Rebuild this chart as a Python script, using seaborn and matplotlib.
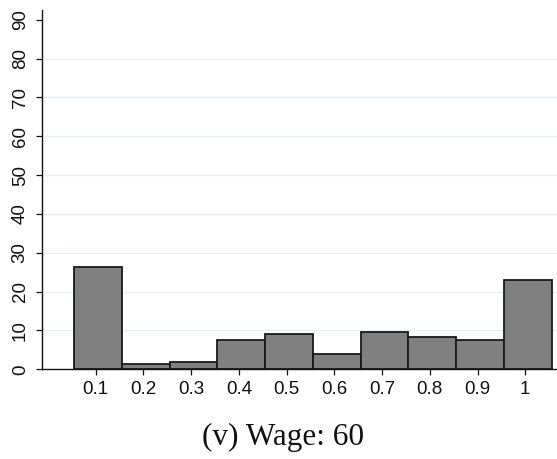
import numpy as np
import pandas as pd
import matplotlib
matplotlib.use("Agg")
import matplotlib.pyplot as plt
import seaborn as sns

# Share of choices (percent) at each value
values = [0.1, 0.2, 0.3, 0.4, 0.5, 0.6, 0.7, 0.8, 0.9, 1.0]
percent = [26.4, 1.3, 2.0, 7.5, 9.0, 4.0, 9.7, 8.3, 7.5, 23.0]
x_tick_labels = ["0.1", "0.2", "0.3", "0.4", "0.5", "0.6", "0.7", "0.8", "0.9", "1"]
y_ticks = [0, 10, 20, 30, 40, 50, 60, 70, 80, 90]
caption = "(v) Wage: 60"

df = pd.DataFrame({"value": values, "percent": percent})

sns.set_theme(style="white")
plt.rcParams["font.family"] = ["Liberation Sans", "DejaVu Sans"]

fig = plt.figure(figsize=(5.57, 4.59), dpi=100)
ax = fig.add_axes([0.0754, 0.1954, 0.9246, 0.7826])

# bins of width 0.1, starting slightly left of each value
v = np.asarray(values)
edges = [float(e) for e in np.append(v - 0.045, v[-1] + 0.055)]

for y in y_ticks[1:-1]:
    ax.axhline(y, color="#e6eef0", linewidth=0.9, zorder=0)

sns.histplot(data=df, x="value", weights="percent", bins=edges,
             color="#808080", alpha=1.0, edgecolor="#1a1a1a", linewidth=1.3,
             ax=ax)

ax.set_xlim(-0.0126, 1.0665)
ax.set_ylim(0, 92.5)
ax.set_xticks(values)
ax.set_xticklabels(x_tick_labels)
ax.set_yticks(y_ticks)
ax.set_yticklabels([str(t) for t in y_ticks], rotation=90, va="center")
ax.set_xlabel("")
ax.set_ylabel("")
ax.grid(False)

for side in ["top", "right"]:
    ax.spines[side].set_visible(False)
for side in ["left", "bottom"]:
    ax.spines[side].set_color("#111111")
    ax.spines[side].set_linewidth(1.0)

ax.tick_params(axis="both", which="major", direction="out", length=4.5,
               width=0.9, color="#111111", labelsize=13.5, labelcolor="#111111",
               bottom=True, left=True)
ax.tick_params(axis="x", pad=4)
ax.tick_params(axis="y", pad=5)

fig.text(0.508, 0.047, caption, ha="center", va="center",
         fontsize=22.5, family=["Liberation Serif", "DejaVu Serif"], color="#111111")

fig.savefig("out.png", dpi=100)
